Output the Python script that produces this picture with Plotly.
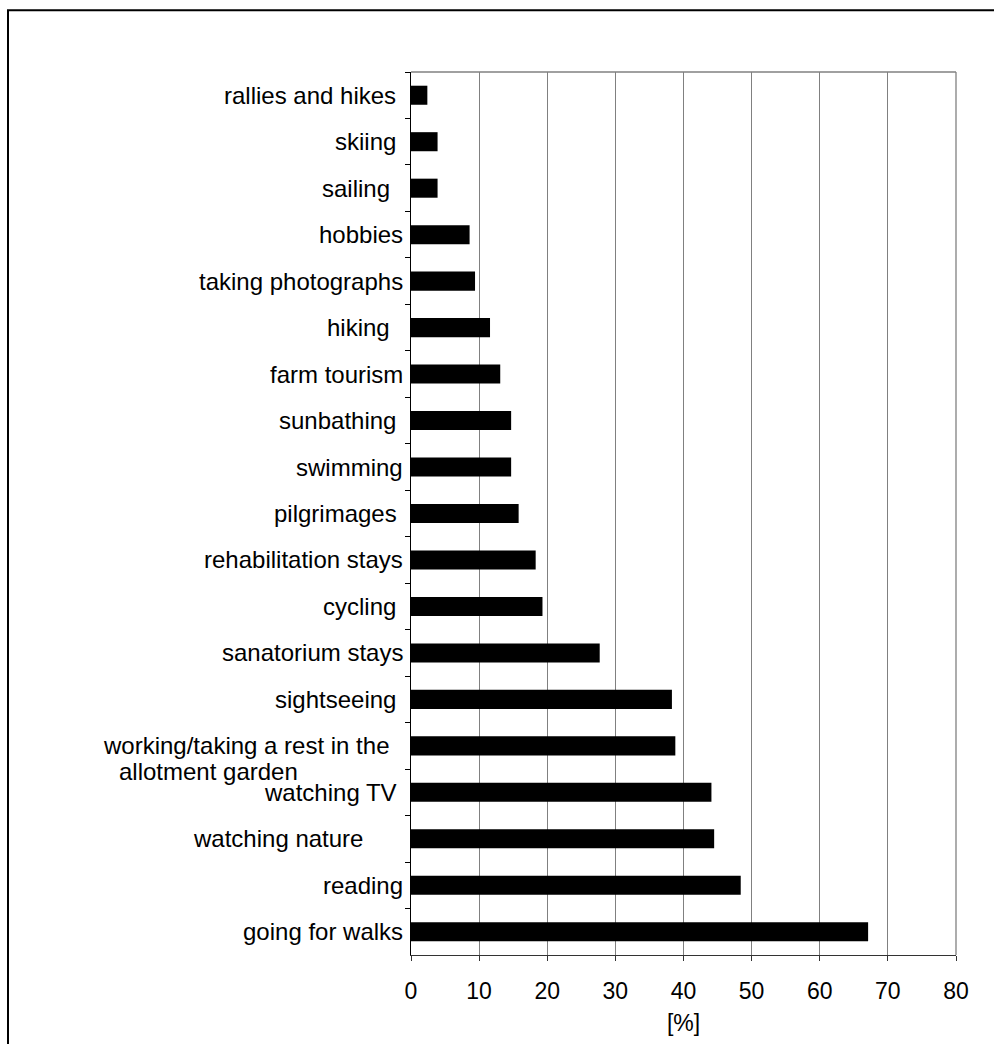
import plotly.graph_objects as go

# Leisure activities, listed top to bottom as shown on the chart
activities = [
    "rallies and hikes ",
    "skiing ",
    "sailing  ",
    "hobbies",
    "taking photographs",
    "hiking  ",
    "farm tourism",
    "sunbathing ",
    "swimming",
    "pilgrimages ",
    "rehabilitation stays",
    "cycling ",
    "sanatorium stays",
    "sightseeing ",
    "working/taking a rest in the  ",
    "watching TV ",
    "watching nature      ",
    "reading",
    "going for walks",
]
wrapped_tail = "allotment garden"  # second line of the allotment-garden label

share_pct = [2.4, 3.9, 3.9, 8.6, 9.4, 11.6, 13.1, 14.7, 14.7, 15.8,
             18.3, 19.3, 27.7, 38.3, 38.8, 44.1, 44.5, 48.4, 67.1]

x_ticks = [0, 10, 20, 30, 40, 50, 60, 70, 80]
x_title = "[%]"

W, H = 994, 1044
L, R, T, B = 411, 38, 72, 85
plot_w, plot_h = W - L - R, H - T - B

FONT = "Liberation Sans, Arial, sans-serif"

cats = [a.strip() for a in activities]

fig = go.Figure(
    go.Bar(
        x=share_pct,
        y=cats,
        orientation="h",
        marker=dict(color="#000000", line=dict(width=0)),
        hoverinfo="x+y",
    )
)

annotations = []
for raw, cat in zip(activities, cats):
    trail = len(raw) - len(raw.rstrip())
    annotations.append(dict(
        x=0, xref="paper", y=cat, yref="y",
        text=cat + "\u00a0" * trail,
        xanchor="right", yanchor="middle", xshift=-6,
        showarrow=False, font=dict(family=FONT, size=24, color="#000"),
    ))
# wrapped continuation of the long label, one line below its bar
annotations.append(dict(
    x=0, xref="paper", y=cats[14], yref="y",
    text=wrapped_tail, xanchor="left", yanchor="middle",
    xshift=-294, yshift=-26, showarrow=False,
    font=dict(family=FONT, size=24, color="#000"),
))

px2paper_x = lambda px: (px - L) / plot_w
px2paper_y = lambda py: (H - B - py) / plot_h

shapes = [
    # plot frame: top and right edges
    dict(type="line", xref="paper", yref="paper", x0=0, x1=1, y0=1, y1=1,
         line=dict(color="#808080", width=1.3)),
    dict(type="line", xref="paper", yref="paper", x0=1, x1=1, y0=0, y1=1,
         line=dict(color="#808080", width=1.3)),
    # outer chart border
    dict(type="rect", xref="paper", yref="paper",
         x0=px2paper_x(8), x1=px2paper_x(W + 20),
         y0=px2paper_y(H + 20), y1=px2paper_y(10),
         line=dict(color="#000", width=2), fillcolor="rgba(0,0,0,0)"),
]

fig.update_layout(
    width=W, height=H, autosize=False,
    margin=dict(l=L, r=R, t=T, b=B),
    paper_bgcolor="white", plot_bgcolor="white",
    bargap=0.59, showlegend=False,
    font=dict(family=FONT, size=23, color="#000"),
    annotations=annotations, shapes=shapes,
    xaxis=dict(
        range=[0, 80], tickvals=x_ticks, ticktext=[str(v) for v in x_ticks],
        showgrid=True, gridcolor="#808080", gridwidth=1.3,
        zeroline=False, showline=True, linecolor="#333", linewidth=1.3,
        ticks="outside", ticklen=5, tickcolor="#333",
        tickfont=dict(family=FONT, size=23, color="#000"),
        ticklabelstandoff=10,
        title=dict(text=x_title, font=dict(family=FONT, size=23, color="#000"),
                   standoff=12),
    ),
    yaxis=dict(
        categoryorder="array", categoryarray=cats, autorange="reversed",
        showticklabels=False, showgrid=False, zeroline=False,
        showline=True, linecolor="#000", linewidth=1.3,
        ticks="outside", ticklen=5, tickcolor="#000", tickson="boundaries",
    ),
)

fig.write_html("out.html")
